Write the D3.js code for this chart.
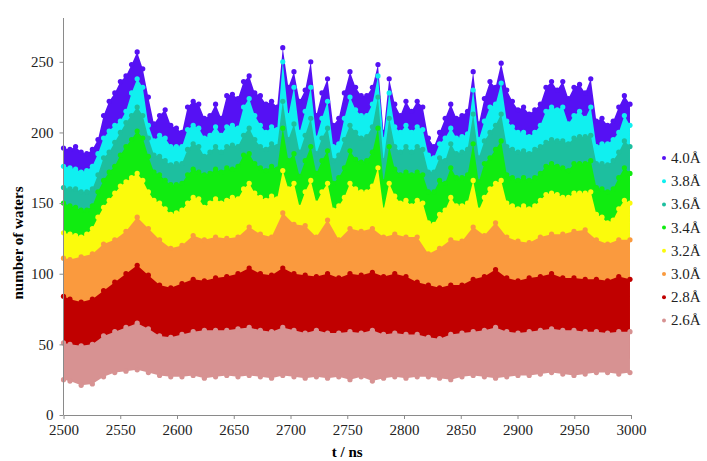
<!DOCTYPE html>
<html>
<head>
<meta charset="utf-8">
<script src="https://cdn.jsdelivr.net/npm/d3@7"></script>
<style>
  body { margin: 0; background: #fff; }
  text { font-family: "Liberation Serif", "Times New Roman", serif; }
</style>
</head>
<body>
<div id="chart"></div>
<script>
const width = 707;
const height = 461;
const margin = ({top: 18, right: 76, bottom: 46, left: 63.5});
const serif = "Liberation Serif, Times New Roman, serif";

const xTicks = [2500, 2550, 2600, 2650, 2700, 2750, 2800, 2850, 2900, 2950, 3000];
const yTicks = [0, 50, 100, 150, 200, 250];
const labels = ["4.0Å", "3.8Å", "3.6Å", "3.4Å", "3.2Å", "3.0Å", "2.8Å", "2.6Å"];
const colors = ["#5511f4", "#10f0f0", "#1dbf9f", "#10ec10", "#fbfb0c", "#fa9a3e", "#c00000", "#d79292"];

// times (ns) at which the envelopes were read: ~5 ns steps for the spiky upper bands, ~10 ns for the lower ones
const tFine = [2500].concat(d3.range(2505.7, 3000, 4.934));
const tCoarse = [2500].concat(d3.range(2505.7, 3000, 9.868));

// upper envelope of each series
const top40 = [189,188,190,186,185,188,195,212,222,228,236,240,248,257,245,225,206,212,216,205,203,
  200,218,222,220,210,212,220,210,226,227,224,236,240,228,226,220,222,218,260,232,
  243,222,230,250,212,228,238,205,210,228,243,232,226,226,232,248,200,238,220,212,
  222,215,222,218,196,190,200,210,220,210,212,215,243,206,224,236,232,249,230,222,
  216,218,213,216,220,232,236,230,236,224,232,234,228,238,208,210,205,208,218,226,220];
const top38 = [176,175,174,172,173,176,185,196,201,205,208,215,228,238,232,205,194,198,196,190,190,
  190,202,205,203,196,198,204,198,204,205,203,218,224,212,205,200,204,202,250,212,
  232,200,215,232,196,210,222,190,192,210,225,216,212,212,220,240,195,228,204,200,
  205,200,204,202,184,182,192,196,203,196,197,199,230,195,208,218,220,235,208,204,
  200,200,197,200,205,215,218,216,218,206,212,215,210,218,190,192,192,195,200,212,205];
const top36 = [161,160,160,158,158,160,170,182,186,193,200,207,212,218,212,196,184,183,180,177,178,
  178,188,192,190,183,186,190,186,190,191,190,198,203,195,190,188,192,190,222,195,
  206,186,198,210,185,196,203,180,184,195,205,200,196,197,204,225,180,210,190,186,
  190,186,190,188,172,172,182,180,192,185,186,188,213,182,194,200,205,213,190,188,
  186,187,185,188,190,193,195,194,194,192,196,197,197,198,178,178,177,180,186,194,190];
const top34 = [150,148,147,145,145,148,158,166,172,176,184,190,195,201,196,183,172,170,166,163,163,
  164,170,174,172,170,171,174,172,175,174,176,184,185,178,175,173,176,174,203,180,
  185,169,180,190,171,180,187,164,168,175,187,181,179,180,186,203,165,190,174,170,
  172,170,172,170,158,158,166,164,175,168,168,170,192,165,178,182,188,194,170,168,
  166,168,166,168,171,176,178,176,175,173,178,178,178,180,161,160,158,160,168,175,171];
const top32 = [129,128,127,126,128,132,140,147,152,157,162,165,168,171,166,158,152,150,146,142,143,
  145,150,154,153,147,150,153,150,152,154,153,160,164,157,154,152,155,153,173,160,
  164,147,158,166,150,158,164,145,148,154,164,160,158,158,162,175,145,164,155,150,
  152,148,152,150,136,135,142,145,154,148,148,150,166,145,154,160,164,166,150,148,
  146,148,146,148,152,156,157,156,154,154,157,157,157,158,142,140,136,138,146,152,150];
const top30 = [111,110,112,114,121,124,130,140,132,124,118,120,127,124,126,125,126,133,128,126,143,
  135,134,126,138,124,132,130,132,126,128,126,126,114,118,124,123,133,127,136,126,
  123,122,126,128,128,130,131,124,121,124,124];
const top28 = [84,82,80,82,88,94,100,106,99,92,90,93,96,95,97,98,100,104,100,99,104,
  100,99,98,100,97,100,99,101,98,100,98,94,92,90,92,92,96,98,103,97,
  95,97,98,100,97,97,96,96,95,98,96];
const top26 = [51,50,49,50,56,59,62,65,61,56,55,57,59,60,60,60,61,62,60,59,62,
  60,58,60,58,58,59,58,60,57,58,57,57,55,54,57,58,59,60,62,59,
  58,59,60,61,60,60,59,59,58,59,59];
// lower envelope of the 2.6 Å series
const bottom26 = [25,24,21,22,27,30,31,32,30,28,27,27,28,26,27,28,27,28,27,26,28,
  27,26,27,26,27,25,27,24,26,27,26,27,27,26,25,27,28,27,26,27,
  28,28,29,30,29,28,29,30,30,29,30];

const tops = [top40, top38, top36, top34, top32, top30, top28, top26];
const grids = [tFine, tFine, tFine, tFine, tFine, tCoarse, tCoarse, tCoarse];

const svg = d3.select("#chart").append("svg")
  .attr("width", width)
  .attr("height", height);

const x = d3.scaleLinear()
  .domain([2500, 3000])
  .range([margin.left, width - margin.right]);

const y = d3.scaleLinear()
  .domain([0, 281])
  .range([height - margin.bottom, margin.top]);

// bands, widest first so the narrower shells sit on top
tops.forEach(function(vals, i) {
  const t = grids[i];
  const pts = vals.map(function(v, j) {
    return {t: t[j], hi: v, lo: i === 7 ? bottom26[j] : 40};
  });
  svg.append("path")
    .datum(pts)
    .attr("fill", colors[i])
    .attr("d", d3.area()
      .x(d => x(d.t))
      .y0(d => y(d.lo))
      .y1(d => y(d.hi)));

  svg.append("g")
    .selectAll("circle")
    .data(pts)
    .join("circle")
    .attr("cx", d => x(d.t))
    .attr("cy", d => y(d.hi))
    .attr("r", 2.6)
    .attr("fill", colors[i]);

  if (i === 7) {
    svg.append("g")
      .selectAll("circle")
      .data(pts)
      .join("circle")
      .attr("cx", d => x(d.t))
      .attr("cy", d => y(d.lo))
      .attr("r", 2.6)
      .attr("fill", colors[i]);
  }
});

const xAxis = g => g
  .attr("transform", `translate(0,${height - margin.bottom})`)
  .call(d3.axisBottom(x).tickValues(xTicks).tickFormat(d3.format("d")).tickSize(4).tickSizeOuter(0).tickPadding(5))
  .attr("font-family", serif)
  .call(g => g.selectAll("line, path").attr("stroke", "#8a8a8a"))
  .call(g => g.selectAll("text").attr("font-size", 15).attr("fill", "#222"));

const yAxis = g => g
  .attr("transform", `translate(${margin.left},0)`)
  .call(d3.axisLeft(y).tickValues(yTicks).tickSize(4).tickSizeOuter(0).tickPadding(6))
  .attr("font-family", serif)
  .call(g => g.select(".domain").attr("d", `M0,${y(0)}V${margin.top}`))
  .call(g => g.selectAll("line, path").attr("stroke", "#8a8a8a"))
  .call(g => g.selectAll("text").attr("font-size", 15).attr("fill", "#222"));

svg.append("g").call(xAxis);
svg.append("g").call(yAxis);

svg.append("text")
  .attr("x", x(2750))
  .attr("y", 457)
  .attr("text-anchor", "middle")
  .attr("font-size", 15)
  .attr("font-weight", "bold")
  .text("t / ns");

svg.append("text")
  .attr("transform", "translate(23,243) rotate(-90)")
  .attr("text-anchor", "middle")
  .attr("font-size", 15)
  .attr("font-weight", "bold")
  .text("number of waters");

const legend = svg.append("g")
  .attr("transform", "translate(664,158)");

labels.forEach(function(name, i) {
  const row = legend.append("g").attr("transform", `translate(0,${i * 23.2})`);
  row.append("circle")
    .attr("r", 2)
    .attr("fill", colors[i]);
  row.append("text")
    .attr("x", 7)
    .attr("y", 5)
    .attr("font-size", 15)
    .attr("fill", "#222")
    .text(name);
});
</script>
</body>
</html>
